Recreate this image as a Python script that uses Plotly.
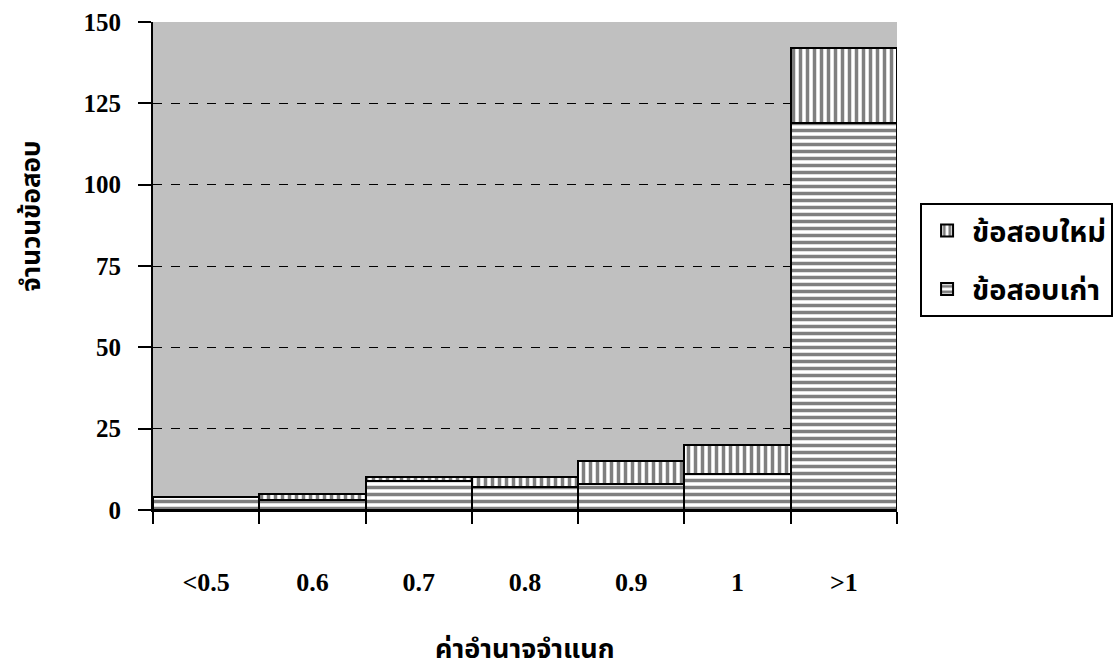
import plotly.graph_objects as go

categories = ["<0.5", "0.6", "0.7", "0.8", "0.9", "1", ">1"]
old_items = [4, 3, 9, 7, 8, 11, 119]
new_items = [0, 2, 1, 3, 7, 9, 23]
y_ticks = [0, 25, 50, 75, 100, 125, 150]

thai_font = "Noto Sans Thai, Loma, Garuda, Tlwg Typo, Liberation Serif, serif"
serif = "Liberation Serif, Times New Roman, serif"

fig = go.Figure()
fig.add_trace(go.Bar(
    x=categories, y=old_items, name="ข้อสอบเก่า", legendgroup="old", legendrank=2,
    marker=dict(color="white", line=dict(color="black", width=2.5),
                pattern=dict(shape="-", fgcolor="black", bgcolor="white", size=7, solidity=0.5)),
))
fig.add_trace(go.Bar(
    x=categories, y=new_items, name="ข้อสอบใหม่", legendgroup="new", legendrank=1,
    marker=dict(color="white", line=dict(color="black", width=2.5),
                pattern=dict(shape="|", fgcolor="black", bgcolor="white", size=7, solidity=0.5)),
))

fig.update_layout(
    width=1116, height=670,
    margin=dict(l=153, r=219, t=22, b=160, autoexpand=False),
    barmode="stack", bargap=0,
    plot_bgcolor="#c0c0c0", paper_bgcolor="white",
    font=dict(family=serif, color="black", size=20),
    showlegend=True,
    legend=dict(x=1.031, y=0.629, xanchor="left", yanchor="top",
                traceorder="grouped", tracegroupgap=18,
                bordercolor="black", borderwidth=2, bgcolor="white",
                font=dict(family=thai_font, size=29, weight="bold"),
                itemwidth=40, itemsizing="constant"),
    xaxis=dict(type="category", showgrid=False, showline=True, linecolor="black", linewidth=2,
               ticks="outside", tickson="boundaries", ticklen=12, tickwidth=2, tickcolor="black",
               tickfont=dict(family=serif, size=26, weight="bold"),
               ticklabelstandoff=48, mirror=False, automargin=False),
    yaxis=dict(range=[0, 150], tickvals=y_ticks, showgrid=True, gridcolor="black",
               griddash="dash", gridwidth=1, zeroline=False,
               showline=True, linecolor="black", linewidth=2,
               ticks="outside", ticklen=13, tickwidth=2, tickcolor="black",
               tickfont=dict(family=serif, size=25, weight="bold"), ticklabelstandoff=12,
               automargin=False),
)

fig.add_annotation(text="จำนวนข้อสอบ", xref="paper", yref="paper",
                   x=-0.162, y=0.602, xanchor="center", yanchor="middle",
                   textangle=-90, showarrow=False,
                   font=dict(family=thai_font, size=26, weight="bold"))
fig.add_annotation(text="ค่าอำนาจจำแนก", xref="paper", yref="paper",
                   x=0.5, y=-0.285, showarrow=False, xanchor="center", yanchor="middle",
                   font=dict(family=thai_font, size=27, weight="bold"))

fig.write_html("out.html")
